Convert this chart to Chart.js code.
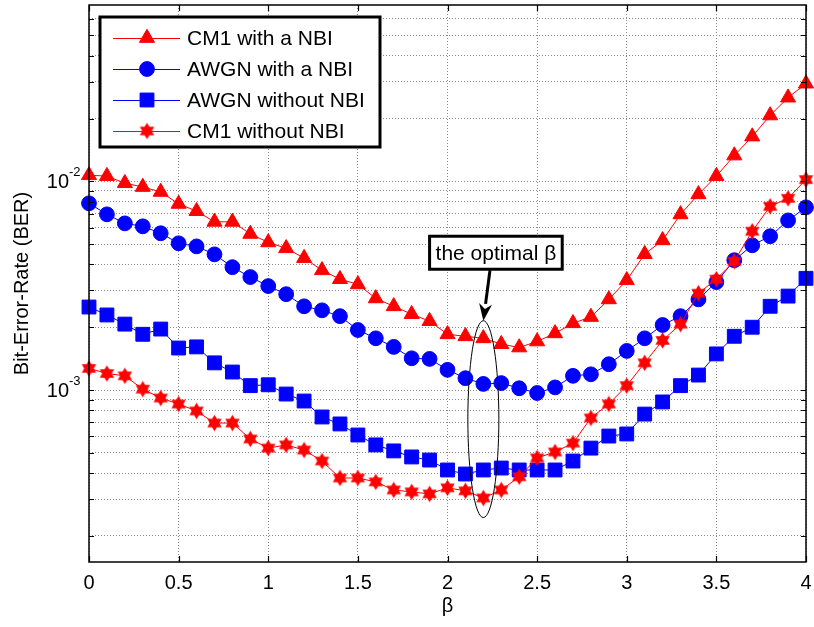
<!DOCTYPE html>
<html>
<head>
<meta charset="utf-8">
<script src="https://cdn.jsdelivr.net/npm/chart.js@4.4.0/dist/chart.umd.min.js"></script>
<style>
  html, body { margin: 0; padding: 0; background: #fff; }
  #wrap { width: 814px; height: 627px; }
</style>
</head>
<body>
<div id="wrap"><canvas id="berChart"></canvas></div>
<script>
// ---------------- 데이터 ----------------
const betaVals = [0, 0.1, 0.2, 0.3, 0.4, 0.5, 0.6, 0.7, 0.8, 0.9, 1.0,
  1.1, 1.2, 1.3, 1.4, 1.5, 1.6, 1.7, 1.8, 1.9, 2.0,
  2.1, 2.2, 2.3, 2.4, 2.5, 2.6, 2.7, 2.8, 2.9, 3.0,
  3.1, 3.2, 3.3, 3.4, 3.5, 3.6, 3.7, 3.8, 3.9, 4.0];

const cm1WithNbi = [0.0107, 0.0106, 0.0098, 0.0094, 0.0089, 0.0078, 0.0072, 0.0064, 0.0064, 0.0056, 0.0051,
  0.00478, 0.00429, 0.00375, 0.0034, 0.00321, 0.00275, 0.00252, 0.00231, 0.00214, 0.00185,
  0.00181, 0.00177, 0.00166, 0.0016, 0.00171, 0.00187, 0.00209, 0.00224, 0.00272, 0.00336,
  0.00448, 0.00522, 0.00695, 0.00867, 0.0106, 0.0133, 0.0164, 0.0207, 0.0252, 0.0294];

const awgnWithNbi = [0.00785, 0.00695, 0.00629, 0.00609, 0.00564, 0.00505, 0.00488, 0.00447, 0.00388, 0.00348, 0.00315,
  0.00288, 0.00252, 0.00241, 0.00226, 0.00194, 0.00177, 0.00161, 0.00142, 0.00141, 0.00125,
  0.00114, 0.00107, 0.00108, 0.00102, 0.000968, 0.00103, 0.00117, 0.00119, 0.00133, 0.00154,
  0.00177, 0.00205, 0.00226, 0.00272, 0.00329, 0.00419, 0.00494, 0.00546, 0.0065, 0.00751];

const awgnNoNbi = [0.0025, 0.00229, 0.00207, 0.00185, 0.00196, 0.00159, 0.00161, 0.00135, 0.00122, 0.00105, 0.00106,
  0.000957, 0.000886, 0.000743, 0.000688, 0.000609, 0.000546, 0.000511, 0.000478, 0.000462, 0.000414,
  0.000396, 0.000414, 0.000423, 0.000414, 0.000414, 0.000414, 0.000457, 0.000527, 0.000602, 0.000616,
  0.000767, 0.000877, 0.00105, 0.00118, 0.00149, 0.00181, 0.002, 0.00252, 0.00282, 0.00343];

const cm1NoNbi = [0.00127, 0.0012, 0.00117, 0.00101, 0.000916, 0.000857, 0.000794, 0.000695, 0.000695, 0.000583, 0.000527,
  0.000546, 0.000516, 0.000457, 0.000379, 0.000379, 0.000363, 0.000332, 0.000325, 0.000318, 0.00034,
  0.000329, 0.000304, 0.000332, 0.000384, 0.000473, 0.000505, 0.000557, 0.000735, 0.000857, 0.00105,
  0.00135, 0.00173, 0.00207, 0.00291, 0.0034, 0.00414, 0.00577, 0.00759, 0.00829, 0.0102];

const seriesNames = ["CM1 with a NBI", "AWGN with a NBI", "AWGN without NBI", "CM1 without NBI"];

// 축 눈금
const xTickVals = [0, 0.5, 1, 1.5, 2, 2.5, 3, 3.5, 4];
const yGridVals = [2e-4, 3e-4, 4e-4, 5e-4, 6e-4, 7e-4, 8e-4, 9e-4,
  1e-3, 2e-3, 3e-3, 4e-3, 5e-3, 6e-3, 7e-3, 8e-3, 9e-3,
  1e-2, 2e-2, 3e-2, 4e-2, 5e-2, 6e-2];
const yLabelExps = [-3, -2];
const yMin = 1.5e-4;
const yMax = 0.07;

// 주석 (optimal beta)
const optimalBeta = 2.2;
const ellipseTopVal = 2.15e-3;
const ellipseBottomVal = 2.45e-4;

// ---------------- 마커 ----------------
const FONT = "'Liberation Sans', Arial, sans-serif";

function makeStar(r, color) {
  const c = document.createElement("canvas");
  const s = Math.ceil(r * 2 + 2);
  c.width = s;
  c.height = s;
  const g = c.getContext("2d");
  g.fillStyle = color;
  g.beginPath();
  for (let i = 0; i < 12; i++) {
    const a = -Math.PI / 2 + (i * Math.PI) / 6;
    const rr = i % 2 === 0 ? r : r * 0.58;
    const px = s / 2 + Math.cos(a) * rr;
    const py = s / 2 + Math.sin(a) * rr;
    if (i === 0) g.moveTo(px, py);
    else g.lineTo(px, py);
  }
  g.closePath();
  g.fill();
  return c;
}
const starImg = makeStar(8.3, "#FF0000");

const toPoints = (ys) => ys.map((y, i) => ({ x: betaVals[i], y: y }));

const markerSpec = [
  { style: "triangle", radius: 8.7, color: "#FF0000" },
  { style: "circle", radius: 7.4, color: "#0000FF" },
  { style: "rect", radius: 9.8, color: "#0000FF" },
  { style: starImg, radius: 8, color: "#FF0000" },
];
const seriesData = [cm1WithNbi, awgnWithNbi, awgnNoNbi, cm1NoNbi];

const datasets = seriesData.map((ys, i) => ({
  label: seriesNames[i],
  data: toPoints(ys),
  borderColor: markerSpec[i].color,
  backgroundColor: markerSpec[i].color,
  borderWidth: 1,
  pointStyle: markerSpec[i].style,
  pointRadius: markerSpec[i].radius,
  pointHoverRadius: markerSpec[i].radius,
  pointBorderWidth: 1,
  pointBackgroundColor: markerSpec[i].color,
  pointBorderColor: markerSpec[i].color,
  clip: false,
  order: 4 - i, // 뒤 시리즈가 위에 그려지도록
}));

// 범례용 마커 그리기
function drawMarker(ctx, i, x, y) {
  const m = markerSpec[i];
  ctx.fillStyle = m.color;
  ctx.strokeStyle = m.color;
  ctx.lineWidth = 1;
  ctx.beginPath();
  if (m.style === "triangle") {
    const r = m.radius;
    ctx.moveTo(x, y - r);
    ctx.lineTo(x + r * 0.866, y + r / 2);
    ctx.lineTo(x - r * 0.866, y + r / 2);
    ctx.closePath();
  } else if (m.style === "circle") {
    ctx.arc(x, y, m.radius, 0, Math.PI * 2);
  } else if (m.style === "rect") {
    const h = m.radius * Math.SQRT1_2;
    ctx.rect(x - h, y - h, h * 2, h * 2);
  } else {
    ctx.drawImage(m.style, x - m.style.width / 2, y - m.style.height / 2);
    return;
  }
  ctx.fill();
  ctx.stroke();
}

// ---------------- 프레임 / 라벨 / 범례 / 주석 플러그인 ----------------
const matlabLook = {
  id: "matlabLook",
  afterDraw(chart) {
    const ctx = chart.ctx;
    const area = chart.chartArea;
    const xs = chart.scales.x;
    const ys = chart.scales.y;
    ctx.save();

    // 축 박스
    ctx.strokeStyle = "#000";
    ctx.lineWidth = 1.5;
    ctx.setLineDash([]);
    ctx.strokeRect(area.left, area.top, area.right - area.left, area.bottom - area.top);

    // 안쪽 눈금
    ctx.lineWidth = 1.2;
    ctx.beginPath();
    xTickVals.forEach((v) => {
      const px = Math.round(xs.getPixelForValue(v)) + 0.5;
      ctx.moveTo(px, area.bottom);
      ctx.lineTo(px, area.bottom - 6);
      ctx.moveTo(px, area.top);
      ctx.lineTo(px, area.top + 6);
    });
    yGridVals.forEach((v) => {
      const py = Math.round(ys.getPixelForValue(v)) + 0.5;
      ctx.moveTo(area.left, py);
      ctx.lineTo(area.left + 5, py);
      ctx.moveTo(area.right, py);
      ctx.lineTo(area.right - 5, py);
    });
    ctx.stroke();

    // x 눈금 라벨
    ctx.fillStyle = "#000";
    ctx.font = "20px " + FONT;
    ctx.textAlign = "center";
    ctx.textBaseline = "middle";
    xTickVals.forEach((v) => {
      ctx.fillText(String(v), xs.getPixelForValue(v), area.bottom + 21);
    });

    // y 눈금 라벨 10^n
    yLabelExps.forEach((e) => {
      const py = ys.getPixelForValue(Math.pow(10, e));
      ctx.font = "20px " + FONT;
      ctx.textAlign = "right";
      ctx.textBaseline = "alphabetic";
      ctx.fillText("10", 69, py + 7);
      ctx.font = "13px " + FONT;
      ctx.textAlign = "left";
      ctx.fillText(String(e), 69, py - 5);
    });

    // 축 제목
    ctx.font = "20px " + FONT;
    ctx.textAlign = "center";
    ctx.textBaseline = "middle";
    ctx.fillText("β", (area.left + area.right) / 2, 606);
    ctx.save();
    ctx.translate(22, (area.top + area.bottom) / 2);
    ctx.rotate(-Math.PI / 2);
    ctx.fillText("Bit-Error-Rate (BER)", 0, 0);
    ctx.restore();

    // 범례
    const lx = area.left + 11;
    const ly = area.top + 12;
    const lw = 280;
    const lh = 130;
    ctx.fillStyle = "#fff";
    ctx.fillRect(lx, ly, lw, lh);
    ctx.strokeStyle = "#000";
    ctx.lineWidth = 3;
    ctx.strokeRect(lx, ly, lw, lh);
    seriesNames.forEach((name, i) => {
      const ry = ly + 21 + i * 31;
      ctx.strokeStyle = markerSpec[i].color;
      ctx.lineWidth = 1;
      ctx.beginPath();
      ctx.moveTo(lx + 13, ry + 0.5);
      ctx.lineTo(lx + 80, ry + 0.5);
      ctx.stroke();
      drawMarker(ctx, i, lx + 47, ry);
      ctx.fillStyle = "#000";
      ctx.font = "21px " + FONT;
      ctx.textAlign = "left";
      ctx.textBaseline = "middle";
      ctx.fillText(name, lx + 87, ry + 1);
    });

    // 타원
    const ex = xs.getPixelForValue(optimalBeta);
    const eTop = ys.getPixelForValue(ellipseTopVal);
    const eBot = ys.getPixelForValue(ellipseBottomVal);
    ctx.strokeStyle = "#000";
    ctx.lineWidth = 1;
    ctx.beginPath();
    ctx.ellipse(ex, (eTop + eBot) / 2, 15.5, (eBot - eTop) / 2, 0, 0, Math.PI * 2);
    ctx.stroke();

    // 텍스트 박스
    const label = "the optimal β";
    ctx.font = "21px " + FONT;
    const tw = ctx.measureText(label).width;
    const bx = xs.getPixelForValue(2.27);
    const by = ys.getPixelForValue(4.55e-3);
    const bw = tw + 12;
    const bh = 33;
    ctx.fillStyle = "#fff";
    ctx.fillRect(bx - bw / 2, by - bh / 2, bw, bh);
    ctx.lineWidth = 3;
    ctx.strokeRect(bx - bw / 2, by - bh / 2, bw, bh);
    ctx.fillStyle = "#000";
    ctx.textAlign = "center";
    ctx.textBaseline = "middle";
    ctx.fillText(label, bx, by + 1);

    // 화살표
    const ax0 = xs.getPixelForValue(2.237);
    const ay0 = by + bh / 2 + 1;
    const ax1 = ex;
    const ay1 = eTop;
    const ang = Math.atan2(ay1 - ay0, ax1 - ax0);
    const headLen = 17;
    const headW = 6.5;
    const bxh = ax1 - Math.cos(ang) * headLen;
    const byh = ay1 - Math.sin(ang) * headLen;
    ctx.lineWidth = 3;
    ctx.beginPath();
    ctx.moveTo(ax0, ay0);
    ctx.lineTo(bxh, byh);
    ctx.stroke();
    ctx.beginPath();
    ctx.moveTo(ax1, ay1);
    ctx.lineTo(bxh - Math.sin(ang) * headW, byh + Math.cos(ang) * headW);
    ctx.lineTo(ax1 - Math.cos(ang) * headLen * 0.7, ay1 - Math.sin(ang) * headLen * 0.7);
    ctx.lineTo(bxh + Math.sin(ang) * headW, byh - Math.cos(ang) * headW);
    ctx.closePath();
    ctx.fill();

    ctx.restore();
  },
};

// ---------------- 차트 ----------------
const config = {
  type: "line",
  data: { datasets: datasets },
  options: {
    responsive: true,
    maintainAspectRatio: false,
    animation: false,
    devicePixelRatio: 1,
    layout: { autoPadding: false, padding: { top: 5, right: 8, left: 0, bottom: 0 } },
    plugins: {
      legend: { display: false },
      tooltip: { enabled: false },
    },
    scales: {
      x: {
        type: "linear",
        min: 0,
        max: 4,
        afterBuildTicks: (s) => { s.ticks = xTickVals.map((v) => ({ value: v })); },
        afterFit: (s) => { s.height = 65; },
        ticks: { display: false },
        grid: { color: "#8a8a8a", lineWidth: 1, drawTicks: false },
        border: { display: false, dash: [1, 2] },
      },
      y: {
        type: "logarithmic",
        min: yMin,
        max: yMax,
        afterBuildTicks: (s) => { s.ticks = yGridVals.map((v) => ({ value: v })); },
        afterFit: (s) => { s.width = 89; },
        ticks: { display: false },
        grid: { color: "#8a8a8a", lineWidth: 1, drawTicks: false },
        border: { display: false, dash: [1, 2] },
      },
    },
  },
  plugins: [matlabLook],
};

const ctx = document.getElementById("berChart");
new Chart(ctx, config);
</script>
</body>
</html>
